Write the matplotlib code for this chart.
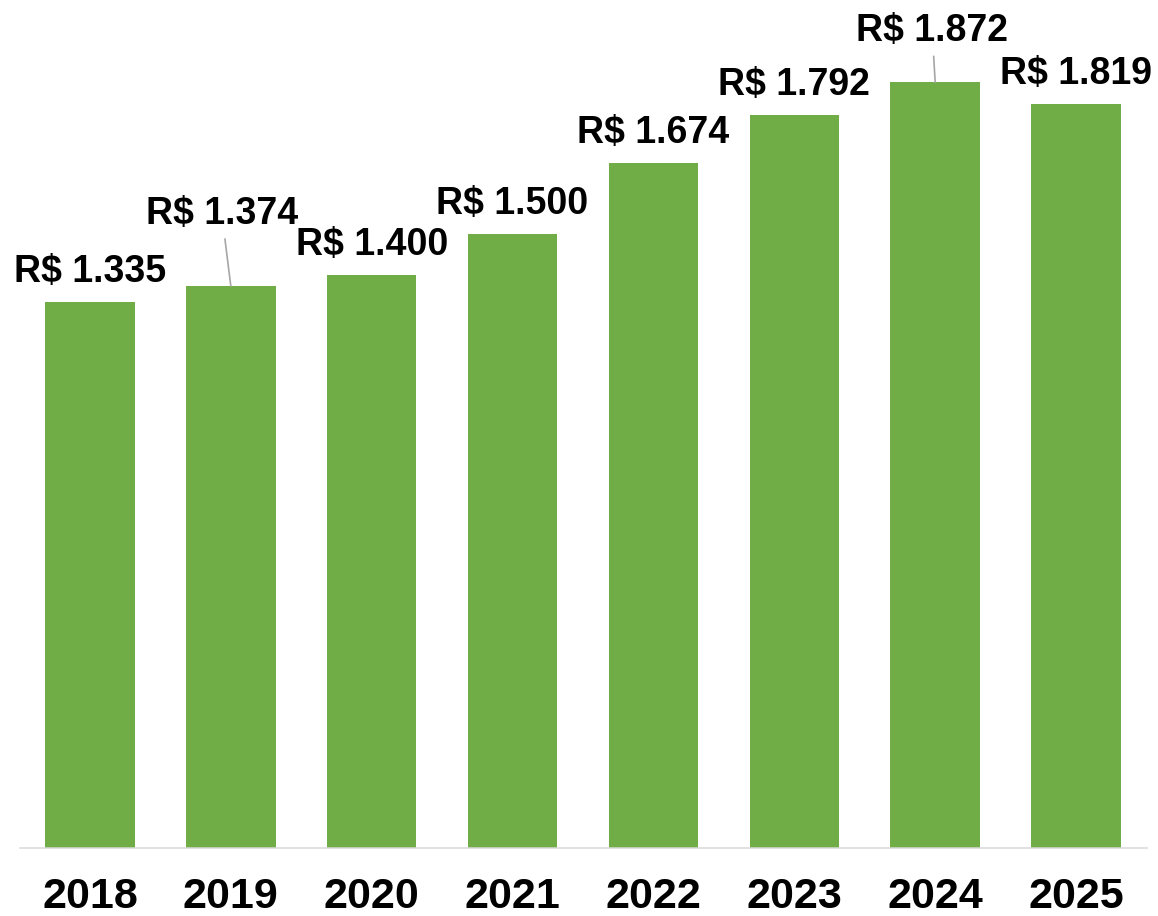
import matplotlib.pyplot as plt

# --- Data ---
years = ["2018", "2019", "2020", "2021", "2022", "2023", "2024", "2025"]
values = [1335, 1374, 1400, 1500, 1674, 1792, 1872, 1819]
labels = ["R$ 1.335", "R$ 1.374", "R$ 1.400", "R$ 1.500",
          "R$ 1.674", "R$ 1.792", "R$ 1.872", "R$ 1.819"]

# label offsets in pixels (most sit right above the bar, two are pulled up with a leader line)
offsets = {1: (-9, 62), 6: (-3, 41)}

plt.rcParams['font.family'] = ['Liberation Sans', 'DejaVu Sans']

fig = plt.figure(figsize=(11.58, 9.16), dpi=100)
ax = fig.add_axes([19.5 / 1158, 68 / 916, 1127 / 1158, 818 / 916])

x = range(len(years))
ax.bar(x, values, width=0.635, color='#70AD47', zorder=2)

for i, (v, lab) in enumerate(zip(values, labels)):
    dx, dy = offsets.get(i, (0, 20))
    if i in offsets:
        ax.annotate(lab, xy=(i, v), xytext=(dx, dy), textcoords='offset pixels',
                    ha='center', va='baseline', fontsize=27, fontweight='bold',
                    arrowprops=dict(arrowstyle='-', color='#A6A6A6', lw=1.2,
                                    shrinkA=3, shrinkB=0))
    else:
        ax.annotate(lab, xy=(i, v), xytext=(dx, dy), textcoords='offset pixels',
                    ha='center', va='baseline', fontsize=27, fontweight='bold')

ax.set_xlim(-0.5, len(years) - 0.5)
ax.set_ylim(0, 2000)
ax.set_xticks(list(x))
ax.set_xticklabels(years, fontsize=31, fontweight='bold')
ax.tick_params(axis='x', length=0, pad=21)
ax.set_yticks([])

for s in ['left', 'right', 'top']:
    ax.spines[s].set_visible(False)
ax.spines['bottom'].set_color('#D9D9D9')
ax.spines['bottom'].set_linewidth(1.1)

fig.savefig('out.png', dpi=100)
